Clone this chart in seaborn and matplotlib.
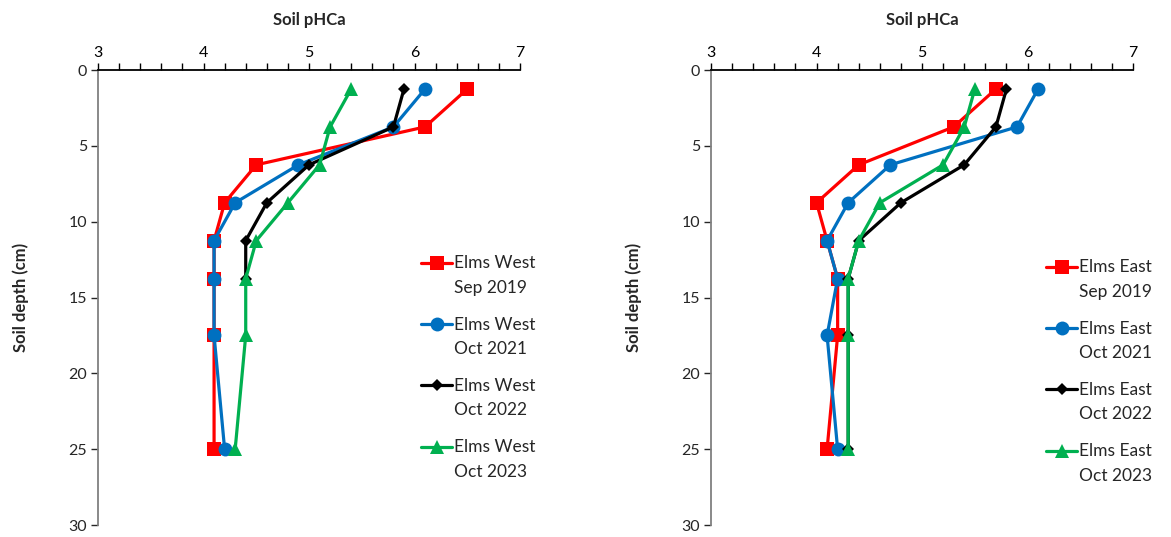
import pandas as pd
import numpy as np
import matplotlib
matplotlib.use("Agg")
import matplotlib.pyplot as plt
import seaborn as sns
from matplotlib.ticker import MultipleLocator
from matplotlib.legend_handler import HandlerLine2D

# Data
# ----------------------------------------------------
depth = [1.25, 3.75, 6.25, 8.75, 11.25, 13.75, 17.5, 25]

west_sep2019 = [6.5, 6.1, 4.5, 4.2, 4.1, 4.1, 4.1, 4.1]
west_oct2021 = [6.1, 5.8, 4.9, 4.3, 4.1, 4.1, 4.1, 4.2]
west_oct2022 = [5.9, 5.8, 5.0, 4.6, 4.4, 4.4]          # no deeper samples
west_oct2023 = [5.4, 5.2, 5.1, 4.8, 4.5, 4.4, 4.4, 4.3]

east_sep2019 = [5.7, 5.3, 4.4, 4.0, 4.1, 4.2, 4.2, 4.1]
east_oct2021 = [6.1, 5.9, 4.7, 4.3, 4.1, 4.2, 4.1, 4.2]
east_oct2022 = [5.8, 5.7, 5.4, 4.8, 4.4, 4.3, 4.3, 4.3]
east_oct2023 = [5.5, 5.4, 5.2, 4.6, 4.4, 4.3, 4.3, 4.3]

dates = ["Sep 2019", "Oct 2021", "Oct 2022", "Oct 2023"]
colors = ["#FF0000", "#0070C0", "#000000", "#00B050"]
markers = ["s", "o", "D", "^"]
msizes = [10, 10, 6.5, 10]


def make_frame(site, series):
    rows = []
    for date, vals in zip(dates, series):
        for d, v in zip(depth, vals):
            rows.append({"series": f"Elms {site}\n{date}", "depth": d, "ph": v})
    return pd.DataFrame(rows)


west = make_frame("West", [west_sep2019, west_oct2021, west_oct2022, west_oct2023])
east = make_frame("East", [east_sep2019, east_oct2021, east_oct2022, east_oct2023])


# legend handle sits next to the first text line (like Excel)
class TopLineHandler(HandlerLine2D):
    def create_artists(self, legend, orig_handle, xdescent, ydescent,
                       width, height, fontsize, trans):
        return super().create_artists(legend, orig_handle, xdescent,
                                      ydescent - 19, width, height,
                                      fontsize, trans)


# Plot
# ----------------------------------------------------
sns.set_style("white")
plt.rcParams["font.family"] = ["Lato", "DejaVu Sans"]

fig = plt.figure(figsize=(11.71, 5.37), dpi=100)
ax1 = fig.add_axes([0.0837, 0.0223, 0.3604, 0.8473])
ax2 = fig.add_axes([0.6072, 0.0223, 0.3604, 0.8473])


def draw_panel(ax, df, legend_anchor):
    for i, name in enumerate(df["series"].unique()):
        sub = df[df["series"] == name]
        sns.lineplot(data=sub, x="ph", y="depth", orient="y", sort=False,
                     estimator=None, color=colors[i], marker=markers[i],
                     markersize=msizes[i], markeredgewidth=0, linewidth=2.3,
                     label=name, ax=ax)

    ax.set_xlim(3, 7)
    ax.set_ylim(30, 0)
    ax.xaxis.set_major_locator(MultipleLocator(1))
    ax.xaxis.set_minor_locator(MultipleLocator(0.2))
    ax.yaxis.set_major_locator(MultipleLocator(5))
    ax.xaxis.tick_top()
    ax.xaxis.set_label_position("top")
    ax.tick_params(axis="x", which="both", direction="out", length=5, width=1,
                   colors="black", labelsize=11.5, pad=2, bottom=False, top=True)
    ax.tick_params(axis="y", which="major", direction="out", length=5, width=1,
                   labelsize=11.5, pad=3, left=True)
    ax.set_xlabel("Soil pHCa", fontsize=12, fontweight="bold", labelpad=15)
    ax.set_ylabel("Soil depth (cm)", fontsize=12, fontweight="bold", labelpad=28)
    for s in ["right", "bottom"]:
        ax.spines[s].set_visible(False)
    ax.spines["top"].set_color("black")
    ax.spines["top"].set_linewidth(1.3)
    ax.spines["left"].set_color("#808080")
    ax.spines["left"].set_linewidth(1.3)

    handles, labels = ax.get_legend_handles_labels()
    leg = ax.legend(handles, labels, loc="upper left", bbox_to_anchor=legend_anchor,
                    frameon=False, fontsize=12.5, handlelength=1.8,
                    handletextpad=0.12, labelspacing=1.2, borderaxespad=0,
                    handler_map={h: TopLineHandler() for h in handles})
    for t in leg.get_texts():
        t.set_linespacing(1.65)
        t.set_color("#262626")


draw_panel(ax1, west, (0.749, 0.608))
draw_panel(ax2, east, (0.777, 0.599))

fig.savefig("out.png", dpi=100)
